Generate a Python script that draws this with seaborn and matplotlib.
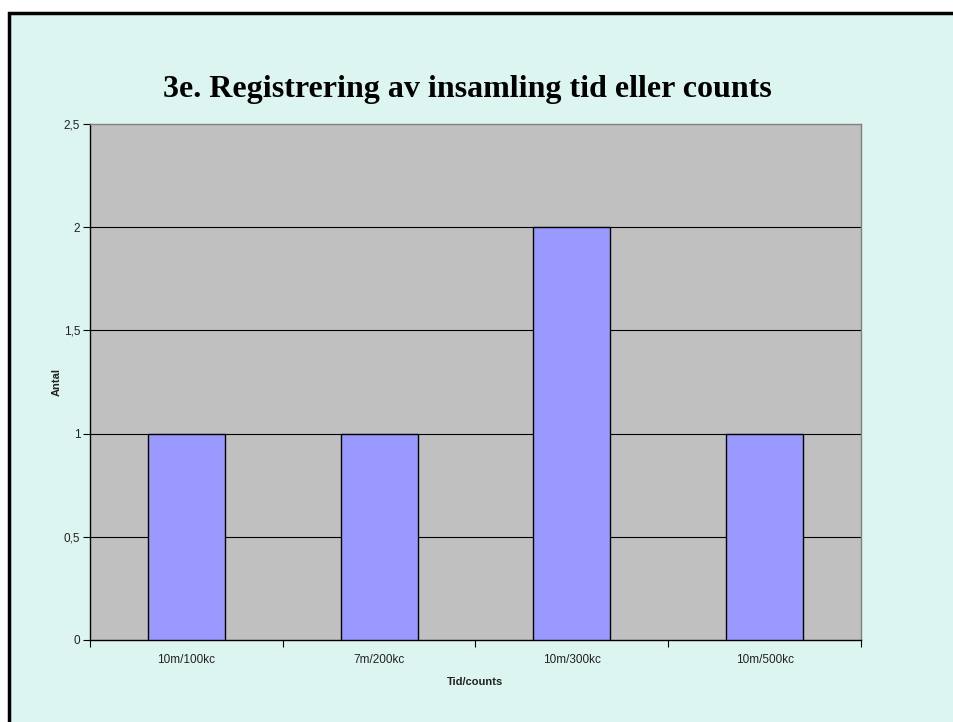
import numpy as np
import pandas as pd
import matplotlib.pyplot as plt
import seaborn as sns
from matplotlib.patches import Rectangle
from matplotlib.ticker import FixedLocator, FuncFormatter

# data
categories = ['10m/100kc', '7m/200kc', '10m/300kc', '10m/500kc']
counts = [1, 1, 2, 1]
yticks = [0, 0.5, 1, 1.5, 2, 2.5]

df = pd.DataFrame({'Tid/counts': categories, 'Antal': counts})

sns.set_style('white')
plt.rcParams['font.family'] = ['Liberation Sans', 'DejaVu Sans']

fig = plt.figure(figsize=(9.54, 7.22), dpi=100, facecolor='white')
# light cyan panel with black border on top/left
fig.patches.append(Rectangle((9 / 954, -0.1), 1.2, (722 - 13) / 722 + 0.1,
                             transform=fig.transFigure, facecolor='#DDF5F1',
                             edgecolor='black', linewidth=2.5, zorder=-5))

ax = fig.add_axes([90 / 954, 82 / 722, 771 / 954, 516 / 722])
ax.set_facecolor('#C0C0C0')

sns.barplot(data=df, x='Tid/counts', y='Antal', color='#9999FF', saturation=1,
            edgecolor='black', linewidth=1, width=0.4, ax=ax, zorder=3)

ax.set_ylim(0, 2.5)
ax.set_xlim(-0.5, 3.5)
ax.set_yticks(yticks)
ax.yaxis.set_major_formatter(FuncFormatter(lambda v, p: f'{v:g}'.replace('.', ',')))
for y in yticks[1:-1]:
    ax.axhline(y, color='black', linewidth=0.8, zorder=1)

# category boundaries get ticks, labels sit in between
ax.xaxis.set_major_locator(FixedLocator(np.arange(-0.5, 4, 1)))
ax.xaxis.set_minor_locator(FixedLocator(range(len(categories))))
ax.set_xticklabels([''] * 5)
ax.set_xticklabels(categories, minor=True)
ax.tick_params(axis='x', which='minor', length=0, pad=10, labelsize=8.5)
ax.tick_params(axis='x', which='major', length=5, width=0.8, direction='out', bottom=True)
ax.tick_params(axis='y', length=5, width=0.8, direction='out', left=True, labelsize=8.5, pad=2)
ax.tick_params(colors='black', which='both', labelcolor='#222222')

for s in ['left', 'bottom']:
    ax.spines[s].set_color('black')
    ax.spines[s].set_linewidth(1)
for s in ['top', 'right']:
    ax.spines[s].set_color('#808080')
    ax.spines[s].set_linewidth(1)

ax.set_xlabel('Tid/counts', fontsize=8, fontweight='bold', labelpad=8, color='#222222')
ax.set_ylabel('Antal', fontsize=8, fontweight='bold', labelpad=1.5, color='#222222')

fig.text(467 / 954, 1 - 89 / 722, '3e. Registrering av insamling tid eller counts',
         ha='center', va='center', fontsize=23, fontweight='bold', color='black',
         family=['Liberation Serif', 'DejaVu Serif'])

fig.savefig('out.png', dpi=100, facecolor=fig.get_facecolor())
